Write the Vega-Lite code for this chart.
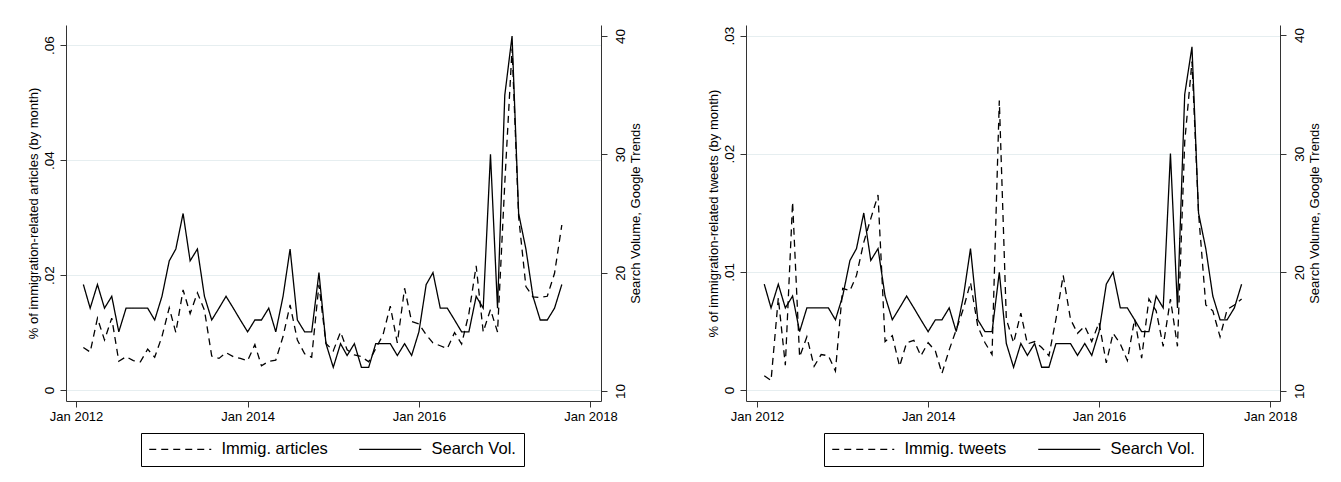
{
  "$schema": "https://vega.github.io/schema/vega-lite/v6.json",
  "padding": {"left": 26, "top": 25, "right": 5, "bottom": 5},
  "background": "white",
  "config": {
    "font": "Liberation Sans",
    "view": {"stroke": null},
    "axis": {
      "labelFont": "Liberation Sans", "titleFont": "Liberation Sans",
      "labelColor": "black", "titleColor": "black", "titleFontWeight": "normal",
      "domainColor": "#333", "tickColor": "#333", "labelFontSize": 13, "titleFontSize": 13,
      "tickSize": 6, "gridColor": "#e6eef0", "gridWidth": 1
    },
    "legend": {
      "labelFont": "Liberation Sans", "labelFontSize": 16.5, "labelColor": "black",
      "symbolType": "M-4.43,0H4.43", "symbolSize": 196, "symbolOffset": 23, "labelOffset": 33,
      "symbolStrokeWidth": 1.2, "symbolStrokeColor": "black", "symbolFillColor": "transparent",
      "strokeColor": "black", "padding": 8, "columnPadding": 28, "direction": "horizontal"
    },
    "concat": {"spacing": 64}
  },
  "data": {
    "values": [
      {"month": "2012-02", "articles": 0.0074, "tweets": 0.0012, "search_a": 19, "search_t": 19},
      {"month": "2012-03", "articles": 0.0066, "tweets": 0.0008, "search_a": 17, "search_t": 17},
      {"month": "2012-04", "articles": 0.0125, "tweets": 0.0078, "search_a": 19, "search_t": 19},
      {"month": "2012-05", "articles": 0.0087, "tweets": 0.0021, "search_a": 17, "search_t": 17},
      {"month": "2012-06", "articles": 0.0125, "tweets": 0.0159, "search_a": 18, "search_t": 18},
      {"month": "2012-07", "articles": 0.0050, "tweets": 0.0028, "search_a": 15, "search_t": 15},
      {"month": "2012-08", "articles": 0.0058, "tweets": 0.0045, "search_a": 17, "search_t": 17},
      {"month": "2012-09", "articles": 0.0051, "tweets": 0.0020, "search_a": 17, "search_t": 17},
      {"month": "2012-10", "articles": 0.0049, "tweets": 0.0030, "search_a": 17, "search_t": 17},
      {"month": "2012-11", "articles": 0.0071, "tweets": 0.0029, "search_a": 17, "search_t": 17},
      {"month": "2012-12", "articles": 0.0057, "tweets": 0.0016, "search_a": 16, "search_t": 16},
      {"month": "2013-01", "articles": 0.0093, "tweets": 0.0086, "search_a": 18, "search_t": 18},
      {"month": "2013-02", "articles": 0.0143, "tweets": 0.0084, "search_a": 21, "search_t": 21},
      {"month": "2013-03", "articles": 0.0100, "tweets": 0.0097, "search_a": 22, "search_t": 22},
      {"month": "2013-04", "articles": 0.0174, "tweets": 0.0125, "search_a": 25, "search_t": 25},
      {"month": "2013-05", "articles": 0.0133, "tweets": 0.0145, "search_a": 21, "search_t": 21},
      {"month": "2013-06", "articles": 0.0169, "tweets": 0.0165, "search_a": 22, "search_t": 22},
      {"month": "2013-07", "articles": 0.0139, "tweets": 0.0041, "search_a": 18, "search_t": 18},
      {"month": "2013-08", "articles": 0.0059, "tweets": 0.0046, "search_a": 16, "search_t": 16},
      {"month": "2013-09", "articles": 0.0055, "tweets": 0.0020, "search_a": 17, "search_t": 17},
      {"month": "2013-10", "articles": 0.0065, "tweets": 0.0040, "search_a": 18, "search_t": 18},
      {"month": "2013-11", "articles": 0.0058, "tweets": 0.0042, "search_a": 17, "search_t": 17},
      {"month": "2013-12", "articles": 0.0055, "tweets": 0.0029, "search_a": 16, "search_t": 16},
      {"month": "2014-01", "articles": 0.0051, "tweets": 0.0040, "search_a": 15, "search_t": 15},
      {"month": "2014-02", "articles": 0.0079, "tweets": 0.0033, "search_a": 16, "search_t": 16},
      {"month": "2014-03", "articles": 0.0042, "tweets": 0.0014, "search_a": 16, "search_t": 16},
      {"month": "2014-04", "articles": 0.0050, "tweets": 0.0034, "search_a": 17, "search_t": 17},
      {"month": "2014-05", "articles": 0.0052, "tweets": 0.0051, "search_a": 15, "search_t": 15},
      {"month": "2014-06", "articles": 0.0093, "tweets": 0.0069, "search_a": 18, "search_t": 18},
      {"month": "2014-07", "articles": 0.0148, "tweets": 0.0091, "search_a": 22, "search_t": 22},
      {"month": "2014-08", "articles": 0.0087, "tweets": 0.0054, "search_a": 16, "search_t": 16},
      {"month": "2014-09", "articles": 0.0063, "tweets": 0.0040, "search_a": 15, "search_t": 15},
      {"month": "2014-10", "articles": 0.0057, "tweets": 0.0030, "search_a": 15, "search_t": 15},
      {"month": "2014-11", "articles": 0.0183, "tweets": 0.0245, "search_a": 20, "search_t": 20},
      {"month": "2014-12", "articles": 0.0081, "tweets": 0.0060, "search_a": 14, "search_t": 14},
      {"month": "2015-01", "articles": 0.0068, "tweets": 0.0040, "search_a": 12, "search_t": 12},
      {"month": "2015-02", "articles": 0.0101, "tweets": 0.0065, "search_a": 14, "search_t": 14},
      {"month": "2015-03", "articles": 0.0070, "tweets": 0.0039, "search_a": 13, "search_t": 13},
      {"month": "2015-04", "articles": 0.0061, "tweets": 0.0041, "search_a": 14, "search_t": 14},
      {"month": "2015-05", "articles": 0.0058, "tweets": 0.0036, "search_a": 12, "search_t": 12},
      {"month": "2015-06", "articles": 0.0049, "tweets": 0.0029, "search_a": 12, "search_t": 12},
      {"month": "2015-07", "articles": 0.0072, "tweets": 0.0060, "search_a": 14, "search_t": 14},
      {"month": "2015-08", "articles": 0.0096, "tweets": 0.0097, "search_a": 14, "search_t": 14},
      {"month": "2015-09", "articles": 0.0146, "tweets": 0.0060, "search_a": 14, "search_t": 14},
      {"month": "2015-10", "articles": 0.0082, "tweets": 0.0048, "search_a": 13, "search_t": 13},
      {"month": "2015-11", "articles": 0.0177, "tweets": 0.0054, "search_a": 14, "search_t": 14},
      {"month": "2015-12", "articles": 0.0119, "tweets": 0.0041, "search_a": 13, "search_t": 13},
      {"month": "2016-01", "articles": 0.0115, "tweets": 0.0057, "search_a": 15, "search_t": 15},
      {"month": "2016-02", "articles": 0.0096, "tweets": 0.0023, "search_a": 19, "search_t": 19},
      {"month": "2016-03", "articles": 0.0082, "tweets": 0.0048, "search_a": 20, "search_t": 20},
      {"month": "2016-04", "articles": 0.0077, "tweets": 0.0039, "search_a": 17, "search_t": 17},
      {"month": "2016-05", "articles": 0.0072, "tweets": 0.0025, "search_a": 17, "search_t": 17},
      {"month": "2016-06", "articles": 0.0100, "tweets": 0.0060, "search_a": 16, "search_t": 16},
      {"month": "2016-07", "articles": 0.0080, "tweets": 0.0027, "search_a": 15, "search_t": 15},
      {"month": "2016-08", "articles": 0.0133, "tweets": 0.0077, "search_a": 15, "search_t": 15},
      {"month": "2016-09", "articles": 0.0216, "tweets": 0.0067, "search_a": 18, "search_t": 18},
      {"month": "2016-10", "articles": 0.0101, "tweets": 0.0037, "search_a": 17, "search_t": 17},
      {"month": "2016-11", "articles": 0.0140, "tweets": 0.0077, "search_a": 30, "search_t": 30},
      {"month": "2016-12", "articles": 0.0101, "tweets": 0.0037, "search_a": 17, "search_t": 17},
      {"month": "2017-01", "articles": 0.0360, "tweets": 0.0210, "search_a": 35, "search_t": 35},
      {"month": "2017-02", "articles": 0.0594, "tweets": 0.0278, "search_a": 40, "search_t": 39},
      {"month": "2017-03", "articles": 0.0301, "tweets": 0.0150, "search_a": 25, "search_t": 25},
      {"month": "2017-04", "articles": 0.0180, "tweets": 0.0072, "search_a": 22, "search_t": 22},
      {"month": "2017-05", "articles": 0.0162, "tweets": 0.0067, "search_a": 18, "search_t": 18},
      {"month": "2017-06", "articles": 0.0161, "tweets": 0.0045, "search_a": 16, "search_t": 16},
      {"month": "2017-07", "articles": 0.0163, "tweets": 0.0068, "search_a": 16, "search_t": 16},
      {"month": "2017-08", "articles": 0.0203, "tweets": 0.0072, "search_a": 17, "search_t": 17},
      {"month": "2017-09", "articles": 0.0287, "tweets": 0.0077, "search_a": 19, "search_t": 19}
    ],
    "format": {"parse": {"month": "date:'%Y-%m'"}}
  },
  "hconcat": [
    {
      "width": 535, "height": 376,
      "encoding": {
        "x": {"field": "month", "type": "temporal",
          "scale": {"domain": [{"year": 2011, "month": 11, "date": 19}, {"year": 2018, "month": 2, "date": 15}]},
          "axis": {"values": [{"year": 2012, "month": 1, "date": 1}, {"year": 2014, "month": 1, "date": 1}, {"year": 2016, "month": 1, "date": 1}, {"year": 2018, "month": 1, "date": 1}],
            "format": "%b %Y", "labelAngle": 0, "labelPadding": 3, "title": null, "grid": false}}
      },
      "layer": [
        {
          "mark": {"type": "line", "color": "black", "strokeWidth": 1.3},
          "encoding": {
            "y": {"field": "articles", "type": "quantitative",
              "scale": {"domain": [-0.00191, 0.06348], "nice": false, "zero": false},
              "axis": {"orient": "left", "values": [0, 0.02, 0.04, 0.06],
                "labelExpr": "datum.value == 0 ? '0' : replace(format(datum.value, '.2f'), '0.', '.')",
                "labelAngle": 270, "labelAlign": "center", "labelBaseline": "bottom",
                "labelFontSize": 13.5, "labelPadding": 4, "titlePadding": 2,
                "title": "% of immigration-related articles (by month)", "grid": true}},
            "strokeDash": {"datum": "Immig. articles", "type": "nominal",
              "scale": {"domain": ["Immig. articles", "Search Vol."], "range": [[7, 5], [1, 0]]},
              "legend": {"orient": "none", "legendX": 75, "legendY": 408, "title": null}}
          }
        },
        {
          "mark": {"type": "line", "color": "black", "strokeWidth": 1.3},
          "encoding": {
            "y": {"field": "search_a", "type": "quantitative",
              "scale": {"domain": [9.155, 40.93], "nice": false, "zero": false},
              "axis": {"orient": "right", "values": [10, 20, 30, 40],
                "labelAngle": 270, "labelAlign": "center", "labelBaseline": "top",
                "titleAngle": 270, "titleBaseline": "top", "titleAlign": "center",
                "labelFontSize": 13.5, "labelPadding": 6, "titlePadding": 3,
                "title": "Search Volume, Google Trends", "grid": false}},
            "strokeDash": {"datum": "Search Vol.", "type": "nominal"}
          }
        }
      ],
      "resolve": {"scale": {"y": "independent"}}
    },
    {
      "width": 534, "height": 376,
      "encoding": {
        "x": {"field": "month", "type": "temporal",
          "scale": {"domain": [{"year": 2011, "month": 11, "date": 15}, {"year": 2018, "month": 2, "date": 12}]},
          "axis": {"values": [{"year": 2012, "month": 1, "date": 1}, {"year": 2014, "month": 1, "date": 1}, {"year": 2016, "month": 1, "date": 1}, {"year": 2018, "month": 1, "date": 1}],
            "format": "%b %Y", "labelAngle": 0, "labelPadding": 3, "title": null, "grid": false}}
      },
      "layer": [
        {
          "mark": {"type": "line", "color": "black", "strokeWidth": 1.3},
          "encoding": {
            "y": {"field": "tweets", "type": "quantitative",
              "scale": {"domain": [-0.00093, 0.03089], "nice": false, "zero": false},
              "axis": {"orient": "left", "values": [0, 0.01, 0.02, 0.03],
                "labelExpr": "datum.value == 0 ? '0' : replace(format(datum.value, '.2f'), '0.', '.')",
                "labelAngle": 270, "labelAlign": "center", "labelBaseline": "bottom",
                "labelFontSize": 13.5, "labelPadding": 4, "titlePadding": 2,
                "title": "% of immigration-related tweets (by month)", "grid": true}},
            "strokeDash": {"datum": "Immig. tweets", "type": "nominal",
              "scale": {"domain": ["Immig. tweets", "Search Vol."], "range": [[7, 5], [1, 0]]},
              "legend": {"orient": "none", "legendX": 78, "legendY": 408, "title": null}}
          }
        },
        {
          "mark": {"type": "line", "color": "black", "strokeWidth": 1.3},
          "encoding": {
            "y": {"field": "search_t", "type": "quantitative",
              "scale": {"domain": [9.157, 40.84], "nice": false, "zero": false},
              "axis": {"orient": "right", "values": [10, 20, 30, 40],
                "labelAngle": 270, "labelAlign": "center", "labelBaseline": "top",
                "titleAngle": 270, "titleBaseline": "top", "titleAlign": "center",
                "labelFontSize": 13.5, "labelPadding": 6, "titlePadding": 3,
                "title": "Search Volume, Google Trends", "grid": false}},
            "strokeDash": {"datum": "Search Vol.", "type": "nominal"}
          }
        }
      ],
      "resolve": {"scale": {"y": "independent"}}
    }
  ],
  "resolve": {"scale": {"strokeDash": "independent"}, "legend": {"strokeDash": "independent"}}
}
